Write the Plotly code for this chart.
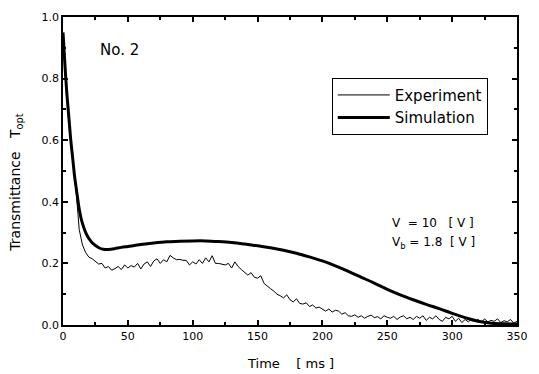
import plotly.graph_objects as go

# Simulated transmittance (smooth model curve)
sim_t = [0, 1, 2, 3, 4, 5, 6, 7, 8, 9, 10, 11, 12, 13, 14, 15, 17, 19, 21, 23,
         25, 28, 31, 34, 37, 40, 45, 50, 60, 70, 80, 90, 100, 110, 120, 130,
         140, 150, 160, 170, 180, 190, 200, 210, 220, 230, 240, 250, 260, 270,
         280, 290, 300, 310, 320, 330, 340, 350]
sim_v = [0.95, 0.88, 0.81, 0.75, 0.70, 0.65, 0.60, 0.56, 0.52, 0.48, 0.45, 0.42,
         0.39, 0.365, 0.345, 0.33, 0.305, 0.287, 0.275, 0.265, 0.258, 0.250,
         0.246, 0.245, 0.246, 0.248, 0.252, 0.255, 0.261, 0.266, 0.270, 0.272,
         0.273, 0.273, 0.271, 0.268, 0.263, 0.257, 0.251, 0.243, 0.233, 0.221,
         0.208, 0.192, 0.174, 0.155, 0.136, 0.116, 0.098, 0.082, 0.067, 0.053,
         0.038, 0.024, 0.012, 0.006, 0.004, 0.003]

# Measured transmittance, sampled every 2.5 ms
exp_dt = 2.5
exp_v = [0.94, 0.76, 0.63, 0.53, 0.44, 0.31, 0.26, 0.235, 0.22, 0.215,
         0.205, 0.198, 0.20, 0.185, 0.19, 0.178, 0.183, 0.19, 0.18, 0.195,
         0.185, 0.193, 0.188, 0.20, 0.182, 0.198, 0.205, 0.19, 0.208, 0.215,
         0.20, 0.212, 0.205, 0.226, 0.218, 0.212, 0.213, 0.21, 0.21, 0.195,
         0.205, 0.198, 0.212, 0.20, 0.218, 0.205, 0.225, 0.20, 0.20, 0.198,
         0.195, 0.20, 0.185, 0.205, 0.19, 0.18, 0.17, 0.162, 0.17, 0.155,
         0.152, 0.16, 0.135, 0.125, 0.118, 0.11, 0.10, 0.095, 0.088, 0.098,
         0.082, 0.075, 0.085, 0.07, 0.068, 0.072, 0.06, 0.065, 0.055, 0.058,
         0.05, 0.045, 0.052, 0.042, 0.048, 0.045, 0.035, 0.04, 0.03, 0.028,
         0.033, 0.025, 0.03, 0.022, 0.028, 0.032, 0.024, 0.027, 0.02, 0.03,
         0.025, 0.022, 0.028, 0.018, 0.026, 0.03, 0.02, 0.025, 0.018, 0.028,
         0.022, 0.03, 0.015, 0.025, 0.02, 0.03, 0.018, 0.012, 0.025, 0.02,
         0.028, 0.012, 0.022, 0.008, 0.018, 0.01, 0.02, 0.012, 0.018, 0.008,
         0.02, 0.01, 0.015, 0.012, 0.02, 0.008, 0.014, 0.01, 0.018, 0.006,
         0.012]
exp_t = [i * exp_dt for i in range(len(exp_v))]

x_ticks = [0, 50, 100, 150, 200, 250, 300, 350]
y_ticks = [0.0, 0.2, 0.4, 0.6, 0.8, 1.0]
y_tick_labels = ["0.0", "0.2", "0.4", "0.6", "0.8", "1.0"]

FONT = "DejaVu Sans"

fig = go.Figure()
fig.add_trace(go.Scatter(x=exp_t, y=exp_v, mode="lines", name="Experiment",
                         line=dict(color="black", width=1)))
fig.add_trace(go.Scatter(x=sim_t, y=sim_v, mode="lines", name="Simulation",
                         line=dict(color="black", width=3, shape="spline")))

axis_common = dict(
    showgrid=False, zeroline=False, showline=True, linecolor="black",
    linewidth=1.5, mirror="ticks", ticks="inside", ticklen=5,
    tickcolor="black", tickwidth=1.5,
    tickfont=dict(family=FONT, size=11, color="black"),
)
fig.update_xaxes(range=[0, 350], tickvals=x_ticks,
                 minor=dict(dtick=25, ticks="inside", ticklen=3,
                            tickcolor="black"),
                 **axis_common)
fig.update_yaxes(range=[0, 1.0], tickvals=y_ticks, ticktext=y_tick_labels,
                 minor=dict(dtick=0.1, ticks="inside", ticklen=3,
                            tickcolor="black"),
                 **axis_common)

fig.add_annotation(text="No. 2", xref="paper", yref="paper", x=0.124, y=0.893,
                   xanchor="center", yanchor="middle", showarrow=False,
                   font=dict(family=FONT, size=15, color="black"))
fig.add_annotation(text="V&nbsp;&nbsp;= 10&nbsp;&nbsp;&nbsp;[ V ]", xref="paper",
                   yref="paper", x=0.72, y=0.33, xanchor="left",
                   yanchor="middle", showarrow=False,
                   font=dict(family=FONT, size=12, color="black"))
fig.add_annotation(text="V<sub>b</sub> = 1.8&nbsp;&nbsp;[ V ]", xref="paper",
                   yref="paper", x=0.72, y=0.265, xanchor="left",
                   yanchor="middle", showarrow=False,
                   font=dict(family=FONT, size=12, color="black"))
fig.add_annotation(text="Time&nbsp;&nbsp;&nbsp;&nbsp;[ ms ]", xref="paper",
                   yref="paper", x=0.5, y=-0.124, xanchor="center",
                   yanchor="middle", showarrow=False,
                   font=dict(family=FONT, size=13, color="black"))
fig.add_annotation(text="Transmittance&nbsp;&nbsp;&nbsp;T<sub>opt</sub>",
                   xref="paper", yref="paper", x=-0.103, y=0.463,
                   xanchor="center", yanchor="middle",
                   textangle=-90, showarrow=False,
                   font=dict(family=FONT, size=14, color="black"))

fig.update_layout(
    width=539, height=374,
    margin=dict(l=63, r=11, t=16, b=49),
    paper_bgcolor="white", plot_bgcolor="white",
    showlegend=True,
    legend=dict(x=0.592, y=0.803, xanchor="left", yanchor="top",
                bordercolor="black", borderwidth=1, bgcolor="white",
                itemwidth=52,
                font=dict(family=FONT, size=15, color="black")),
)

fig.write_html("out.html")
